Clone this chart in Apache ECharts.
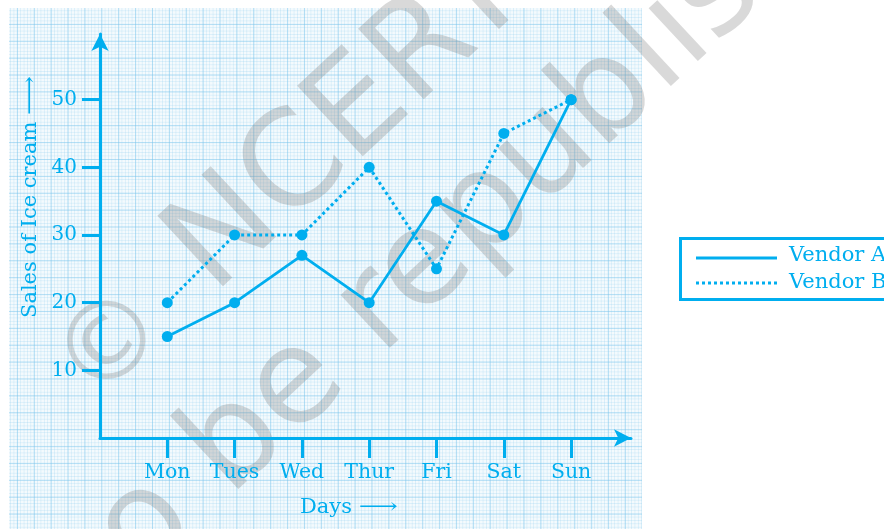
<!DOCTYPE html>
<html>
<head>
<meta charset="utf-8">
<script src="https://cdn.jsdelivr.net/npm/echarts@6/dist/echarts.min.js"></script>
<style>
html,body{margin:0;padding:0;background:#fff;}
#wrap{position:relative;width:884px;height:529px;overflow:hidden;}
#paper{position:absolute;left:9px;top:8px;width:633px;height:521px;
 background-color:#f4fafd;
 background-image:
  linear-gradient(to right, rgba(120,196,236,0.45) 1px, transparent 1px),
  linear-gradient(to bottom, rgba(120,196,236,0.45) 1px, transparent 1px),
  linear-gradient(to right, rgba(160,214,242,0.32) 1px, transparent 1px),
  linear-gradient(to bottom, rgba(160,214,242,0.32) 1px, transparent 1px);
 background-size:16.9px 16.9px,16.9px 16.9px,3.38px 3.38px,3.38px 3.38px;
 background-position:-9px -1px,-9px -1px,-9px -1px,-9px -1px;}
#chart{position:absolute;left:0;top:0;width:884px;height:529px;}
</style>
</head>
<body>
<div id="wrap"><div id="paper"></div><div id="chart"></div></div>
<script>
const days = ['Mon', 'Tues', 'Wed', 'Thur', 'Fri', 'Sat', 'Sun'];
const vendorA = [15, 20, 27, 20, 35, 30, 50];
const vendorB = [20, 30, 30, 40, 25, 45, 50];
const yTicks = [10, 20, 30, 40, 50];
const seriesNames = ['Vendor A', 'Vendor B'];
const xTitle = 'Days';
const yTitle = 'Sales of Ice cream';
const ARROW = '\u27F6';
const watermark = ['\u00A9', 'NCERT', 'not to be republished'];

const BLUE = '#00aeef';
const FONT = 'DejaVu Serif';
const WM = 'rgba(120,120,120,0.28)';
const xPos = days.map((d, i) => i + 1);

const ctx = document.createElement('canvas').getContext('2d');
ctx.font = '21px "' + FONT + '"';
const xTitleW = ctx.measureText(xTitle + ' ').width;
const yTitleW = ctx.measureText(yTitle + ' ').width;

const ROT = 0.75;
const chart = echarts.init(document.getElementById('chart'), null, {renderer: 'canvas'});
const option = {
  animation: false,
  backgroundColor: 'transparent',
  grid: {left: 100, right: 253, top: 34, bottom: 91, containLabel: false},
  xAxis: {
    type: 'value', min: 0, max: 7.89,
    axisLine: {show: true, symbol: ['none', 'arrow'], symbolSize: [13, 17],
      lineStyle: {color: BLUE, width: 3}},
    axisTick: {show: true, customValues: xPos, length: 20, inside: false, lineStyle: {color: BLUE, width: 3}},
    axisLabel: {show: true, customValues: xPos, formatter: v => days[Math.round(v) - 1] || '',
      margin: 24, color: BLUE, fontFamily: FONT, fontSize: 20.5},
    splitLine: {show: false}
  },
  yAxis: {
    type: 'value', min: 0, max: 59.7,
    axisLine: {show: true, symbol: ['none', 'arrow'], symbolSize: [13, 17],
      lineStyle: {color: BLUE, width: 3}},
    axisTick: {show: true, customValues: yTicks, length: 18, lineStyle: {color: BLUE, width: 3}},
    axisLabel: {show: true, customValues: yTicks, margin: 23, color: BLUE, fontFamily: FONT, fontSize: 20},
    splitLine: {show: false}
  },
  series: [
    {name: seriesNames[0], type: 'line', data: vendorA.map((v, i) => [xPos[i], v]),
      symbol: 'circle', symbolSize: 11, itemStyle: {color: BLUE},
      lineStyle: {color: BLUE, width: 2.8, type: 'solid'}, z: 3},
    {name: seriesNames[1], type: 'line', data: vendorB.map((v, i) => [xPos[i], v]),
      symbol: 'circle', symbolSize: 11, itemStyle: {color: BLUE},
      lineStyle: {color: BLUE, width: 3, type: [3, 3]}, z: 3}
  ],
  graphic: [
    {type: 'text', x: 114, y: 348, rotation: ROT, z: 0, style: {text: watermark[0], fill: WM, font: '108px "DejaVu Sans"', align: 'center', verticalAlign: 'middle'}},
    {type: 'text', x: 350, y: 121, rotation: ROT, z: 0, style: {text: watermark[1], fill: WM, font: '132px "DejaVu Sans"', align: 'center', verticalAlign: 'middle'}},
    {type: 'text', x: 407, y: 285, rotation: ROT, z: 0, style: {text: watermark[2], fill: WM, font: '132px "DejaVu Sans"', align: 'center', verticalAlign: 'middle'}},
    {type: 'text', x: 300, y: 508, z: 5, style: {text: xTitle, fill: BLUE, font: '21px "' + FONT + '"', verticalAlign: 'middle'}},
    {type: 'text', x: 300 + xTitleW, y: 508, scaleX: 1.3, z: 5, style: {text: ARROW, fill: BLUE, font: '21px "' + FONT + '"', verticalAlign: 'middle'}},
    {type: 'text', x: 31, y: 318, rotation: Math.PI / 2, z: 5, style: {text: yTitle, fill: BLUE, font: '21px "' + FONT + '"', align: 'left', verticalAlign: 'middle'}},
    {type: 'text', x: 31, y: 318 - yTitleW, rotation: Math.PI / 2, scaleX: 1.3, z: 5, style: {text: ARROW, fill: BLUE, font: '21px "' + FONT + '"', align: 'left', verticalAlign: 'middle'}},
    {type: 'rect', z: 5, shape: {x: 680.5, y: 238.5, width: 230, height: 61}, style: {fill: '#fff', stroke: BLUE, lineWidth: 3}},
    {type: 'line', z: 5, shape: {x1: 696, y1: 258, x2: 777, y2: 258}, style: {stroke: BLUE, lineWidth: 2.8}},
    {type: 'line', z: 5, shape: {x1: 696, y1: 283, x2: 777, y2: 283}, style: {stroke: BLUE, lineWidth: 3, lineDash: [3, 3]}},
    {type: 'text', x: 789, y: 256, z: 5, style: {text: seriesNames[0], fill: BLUE, font: '21px "' + FONT + '"', verticalAlign: 'middle'}},
    {type: 'text', x: 789, y: 283, z: 5, style: {text: seriesNames[1], fill: BLUE, font: '21px "' + FONT + '"', verticalAlign: 'middle'}}
  ]
};
chart.setOption(option);
</script>
</body>
</html>
